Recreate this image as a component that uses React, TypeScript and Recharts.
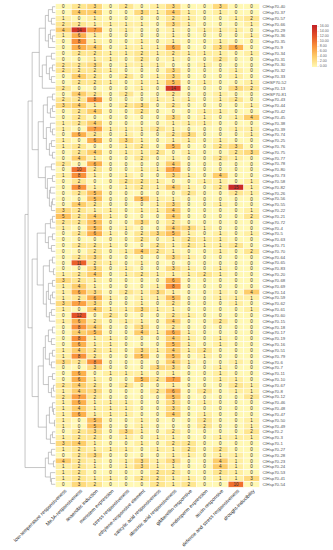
import React from 'react';
import { ScatterChart, Scatter, XAxis, YAxis } from 'recharts';

const columns = [
  'low-temperature responsiveness', 'MeJA-responsiveness', 'anaerobic induction',
  'meristem expression', 'stress responsiveness', 'ethylene-responsive element',
  'salicylic acid responsiveness', 'abscisic acid responsiveness', 'gibberellin-responsive',
  'endosperm expression', 'auxin-responsive', 'defense and stress responsiveness',
  'drought-inducibility',
];

const genes = [
  'ClHsp70-40', 'ClHsp70-37', 'ClHsp70-57', 'ClHsp70-66', 'ClHsp70-29', 'ClHsp70-36', 'ClHsp70-35',
  'ClHsp70-9', 'ClHsp70-34', 'ClHsp70-31', 'ClHsp70-30', 'ClHsp70-32', 'ClHsp70-33', 'ClHSP70-52',
  'ClHsp70-13', 'ClHSP70-81', 'ClHsp70-43', 'ClHsp70-44', 'ClHsp70-42', 'ClHsp70-45', 'ClHsp70-38',
  'ClHsp70-39', 'ClHsp70-74', 'ClHsp70-25', 'ClHsp70-76', 'ClHsp70-75', 'ClHsp70-77', 'ClHsp70-78',
  'ClHsp70-80', 'ClHsp70-73', 'ClHsp70-58', 'ClHsp70-82', 'ClHsp70-26', 'ClHsp70-56', 'ClHsp70-55',
  'ClHsp70-22', 'ClHsp70-21', 'ClHsp70-72', 'ClHsp70-4', 'ClHsp70-5', 'ClHsp70-63', 'ClHsp70-71',
  'ClHsp70-70', 'ClHsp70-64', 'ClHsp70-65', 'ClHsp70-83', 'ClHsp70-20', 'ClHsp70-68', 'ClHsp70-69',
  'ClHsp70-14', 'ClHsp70-59', 'ClHsp70-62', 'ClHsp70-61', 'ClHsp70-60', 'ClHsp70-15', 'ClHsp70-18',
  'ClHsp70-17', 'ClHsp70-19', 'ClHsp70-16', 'ClHsp70-51', 'ClHsp70-79', 'ClHsp70-6', 'ClHsp70-7',
  'ClHsp70-11', 'ClHsp70-10', 'ClHsp70-67', 'ClHsp70-8', 'ClHsp70-12', 'ClHsp70-46', 'ClHsp70-48',
  'ClHsp70-47', 'ClHsp70-50', 'ClHsp70-49', 'ClHsp70-2', 'ClHsp70-3', 'ClHsp70-1', 'ClHsp70-27',
  'ClHsp70-28', 'ClHsp70-23', 'ClHsp70-24', 'ClHsp70-53', 'ClHsp70-41', 'ClHsp70-54',
];

const counts = [
  [0, 2, 3, 0, 2, 0, 1, 3, 0, 0, 3, 0, 0],
  [0, 4, 4, 0, 0, 3, 1, 4, 1, 0, 1, 0, 0],
  [1, 0, 1, 0, 0, 0, 0, 2, 1, 0, 0, 1, 2],
  [2, 2, 1, 1, 1, 1, 0, 3, 1, 0, 0, 0, 1],
  [4, 14, 7, 0, 1, 0, 0, 1, 0, 1, 1, 1, 0],
  [1, 6, 1, 0, 0, 0, 0, 1, 0, 0, 0, 0, 1],
  [0, 8, 1, 0, 0, 1, 0, 1, 0, 0, 1, 0, 0],
  [0, 6, 4, 0, 1, 1, 1, 6, 0, 0, 3, 6, 0],
  [0, 2, 2, 1, 1, 2, 1, 2, 1, 1, 1, 0, 1],
  [0, 0, 1, 1, 0, 2, 0, 1, 0, 0, 2, 0, 0],
  [2, 2, 3, 0, 1, 1, 1, 0, 0, 1, 0, 0, 0],
  [2, 2, 2, 1, 0, 0, 0, 3, 0, 0, 0, 1, 0],
  [0, 4, 2, 0, 2, 0, 1, 3, 0, 0, 0, 1, 0],
  [0, 2, 2, 1, 0, 1, 1, 5, 0, 1, 0, 0, 1],
  [2, 0, 0, 0, 0, 1, 0, 14, 0, 0, 0, 3, 2],
  [0, 4, 2, 0, 2, 0, 0, 2, 0, 0, 1, 0, 0],
  [2, 2, 8, 0, 0, 0, 1, 1, 1, 0, 1, 2, 0],
  [3, 4, 1, 0, 2, 3, 0, 2, 0, 0, 0, 0, 1],
  [0, 2, 4, 0, 0, 2, 0, 0, 0, 1, 1, 0, 0],
  [0, 2, 0, 0, 0, 0, 0, 3, 0, 1, 0, 1, 4],
  [1, 2, 4, 0, 0, 0, 0, 1, 1, 1, 0, 0, 0],
  [1, 0, 7, 1, 1, 1, 2, 1, 0, 0, 0, 1, 1],
  [0, 6, 2, 0, 1, 0, 0, 2, 3, 0, 0, 0, 1],
  [1, 0, 6, 0, 3, 1, 0, 1, 1, 0, 1, 0, 0],
  [1, 2, 0, 0, 1, 2, 0, 5, 0, 0, 2, 3, 0],
  [0, 2, 4, 0, 1, 1, 2, 0, 1, 0, 0, 2, 3],
  [0, 4, 1, 0, 0, 2, 0, 1, 0, 0, 2, 1, 0],
  [2, 0, 6, 0, 0, 0, 0, 4, 0, 0, 0, 0, 0],
  [0, 10, 2, 0, 0, 1, 1, 7, 0, 0, 0, 0, 0],
  [1, 8, 1, 0, 1, 0, 0, 3, 1, 0, 4, 0, 0],
  [0, 2, 0, 0, 2, 2, 1, 0, 0, 1, 1, 0, 1],
  [0, 8, 1, 0, 1, 2, 1, 4, 1, 0, 2, 15, 1],
  [0, 2, 5, 0, 0, 0, 0, 0, 2, 0, 0, 2, 1],
  [0, 0, 5, 0, 0, 5, 1, 1, 0, 0, 0, 0, 0],
  [0, 4, 2, 0, 0, 0, 1, 3, 0, 0, 1, 0, 0],
  [3, 2, 1, 1, 0, 1, 1, 4, 0, 0, 0, 0, 1],
  [5, 2, 4, 1, 0, 0, 0, 4, 0, 0, 0, 0, 2],
  [2, 2, 5, 0, 0, 3, 0, 2, 0, 0, 0, 0, 0],
  [1, 0, 5, 0, 1, 0, 0, 4, 3, 1, 0, 0, 0],
  [0, 2, 6, 1, 0, 2, 3, 5, 1, 0, 1, 0, 1],
  [0, 0, 0, 0, 0, 2, 0, 1, 2, 1, 1, 0, 0],
  [0, 2, 2, 1, 0, 0, 2, 1, 2, 1, 1, 2, 0],
  [0, 0, 2, 0, 1, 4, 2, 1, 0, 0, 1, 0, 2],
  [0, 2, 3, 0, 0, 0, 0, 3, 1, 0, 0, 0, 0],
  [0, 11, 2, 1, 0, 1, 0, 0, 0, 0, 0, 0, 0],
  [0, 0, 3, 0, 1, 0, 0, 3, 1, 0, 1, 0, 0],
  [1, 2, 4, 0, 1, 2, 1, 1, 1, 2, 1, 0, 0],
  [3, 2, 1, 0, 0, 0, 0, 6, 0, 0, 0, 0, 0],
  [1, 4, 1, 0, 0, 0, 1, 8, 0, 0, 0, 0, 0],
  [1, 6, 3, 0, 2, 1, 3, 1, 0, 0, 1, 0, 4],
  [1, 2, 6, 1, 0, 1, 1, 5, 0, 0, 1, 1, 1],
  [3, 7, 3, 0, 0, 1, 0, 2, 0, 0, 0, 1, 0],
  [1, 0, 4, 1, 1, 3, 1, 1, 0, 0, 0, 0, 1],
  [0, 12, 0, 2, 0, 0, 0, 2, 1, 0, 0, 0, 0],
  [1, 6, 2, 0, 1, 1, 0, 4, 0, 0, 2, 0, 0],
  [0, 8, 4, 0, 0, 3, 0, 2, 0, 0, 0, 0, 0],
  [0, 4, 5, 0, 0, 4, 1, 6, 1, 0, 0, 0, 0],
  [0, 8, 1, 1, 0, 0, 0, 4, 1, 0, 1, 0, 0],
  [0, 6, 1, 1, 0, 0, 0, 5, 1, 0, 1, 0, 0],
  [1, 4, 2, 1, 0, 3, 1, 4, 1, 2, 0, 0, 0],
  [1, 8, 2, 0, 0, 5, 0, 5, 0, 1, 0, 0, 0],
  [3, 2, 8, 0, 0, 0, 0, 4, 1, 0, 0, 1, 0],
  [0, 0, 3, 0, 0, 0, 3, 3, 0, 0, 1, 0, 0],
  [0, 6, 0, 1, 1, 1, 0, 1, 0, 0, 1, 0, 0],
  [0, 6, 1, 0, 0, 5, 2, 7, 0, 0, 1, 1, 0],
  [2, 4, 2, 0, 2, 0, 0, 1, 0, 0, 0, 2, 1],
  [1, 4, 3, 0, 0, 0, 2, 6, 0, 2, 0, 1, 1],
  [2, 7, 2, 0, 0, 0, 0, 5, 0, 0, 0, 0, 2],
  [1, 6, 1, 1, 1, 0, 0, 3, 0, 1, 0, 0, 0],
  [1, 4, 1, 1, 1, 0, 0, 3, 0, 0, 0, 0, 0],
  [1, 6, 1, 1, 1, 0, 0, 4, 0, 1, 0, 0, 0],
  [1, 0, 5, 0, 0, 1, 0, 0, 0, 2, 0, 0, 1],
  [1, 0, 5, 0, 0, 1, 0, 0, 0, 2, 0, 0, 1],
  [0, 2, 3, 0, 3, 1, 0, 2, 0, 0, 0, 0, 2],
  [1, 2, 2, 0, 1, 0, 1, 1, 0, 0, 1, 1, 1],
  [3, 4, 1, 0, 0, 1, 0, 2, 2, 0, 0, 0, 0],
  [1, 2, 1, 1, 1, 0, 1, 1, 2, 0, 2, 0, 0],
  [0, 2, 3, 0, 0, 0, 0, 1, 1, 0, 1, 1, 0],
  [4, 2, 1, 0, 1, 3, 1, 3, 0, 0, 4, 1, 0],
  [1, 2, 1, 0, 1, 3, 1, 1, 0, 0, 4, 1, 0],
  [1, 2, 0, 0, 0, 0, 2, 2, 0, 0, 2, 1, 0],
  [1, 2, 1, 1, 0, 2, 2, 1, 1, 0, 1, 1, 3],
  [0, 3, 2, 0, 0, 0, 2, 1, 2, 0, 0, 10, 0],
];

const legendTicks = ['16.00', '14.00', '12.00', '10.00', '8.00', '6.00', '4.00', '2.00', '0.00'];

// dendrogram clusters: leaf = row index, node = [left, right, height]
const clusterA = [
  [[[0, 1, 3], [2, 3, 4], 7], [[4, [5, 6, 3], 5], 7, 7], 10],
  [[[8, 9, 4], [[10, 11, 3], [12, 13, 4], 6], 9], 14, 13],
  16,
];
const clusterB = [
  [[[15, 16, 3], [[17, 18, 3], 19, 5], 8], [[20, [21, 22, 3], 5], [[23, 24, 4], [25, 26, 3], 6], 9], 12],
  [[27, 28, 4], [[29, 30, 3], [[31, 32, 5], [[33, 34, 3], 35, 4], 6], 8], 10],
  17,
];
const clusterC = [
  [[[36, 37, 3], 38, 5], [[39, 40, 3], [41, 42, 4], 7], 10],
  [[[43, 44, 3], [45, 46, 2], 6], [[[47, 48, 3], [[49, 50, 3], 51, 5], 7], [[52, 53, 4], 54, 6], 9], 12],
  18,
];
const clusterD = [
  [[[[55, 56, 3], [57, 58, 4], 7], [[59, 60, 3], [61, 62, 4], 6], 10], [[63, 64, 3], [[65, 66, 2], 67, 4], 7], 12],
  [[[68, [69, 70, 2], 3], [71, 72, 1], 6], [[73, 74, 3], 75, 5], 9],
  17,
];
const clusterE = [[[76, 77, 4], [78, 79, 2], 7], [80, [81, 82, 4], 5], 10];
const tree: any = [[[clusterA, clusterB, 23], [clusterC, clusterD, 23], 27], clusterE, 30];

const colorStops: [number, number[]][] = [
  [0, [255, 248, 180]], [2, [254, 230, 144]], [4, [253, 205, 106]], [6, [252, 176, 76]],
  [8, [249, 145, 58]], [10, [240, 112, 45]], [12, [227, 80, 40]], [14, [212, 52, 37]], [16, [194, 32, 38]],
];

function colorFor(v: number) {
  for (let i = 0; i < colorStops.length - 1; i++) {
    const [a, ca] = colorStops[i];
    const [b, cb] = colorStops[i + 1];
    if (v <= b) {
      const t = (v - a) / (b - a);
      const c = ca.map((x, k) => Math.round(x + (cb[k] - x) * t));
      return `rgb(${c[0]},${c[1]},${c[2]})`;
    }
  }
  const c = colorStops[colorStops.length - 1][1];
  return `rgb(${c[0]},${c[1]},${c[2]})`;
}

const cells = counts.flatMap((row, r) => row.map((v, c) => ({ c, r, v })));

// layout
const W = 333;
const H = 550;
const PLOT_L = 55.5;
const PLOT_R = 259.5;
const PLOT_T = 3.8;
const PLOT_B = 487.2;
const cellW = (PLOT_R - PLOT_L) / columns.length;
const cellH = (PLOT_B - PLOT_T) / genes.length;

// build dendrogram polylines
const links: { x: number; y: number }[][] = [];
function walk(node: any): { y: number; h: number } {
  if (typeof node === 'number') return { y: node, h: 0 };
  const a = walk(node[0]);
  const b = walk(node[1]);
  const h = node[2];
  links.push([
    { x: a.h, y: a.y },
    { x: h, y: a.y },
    { x: h, y: b.y },
    { x: b.h, y: b.y },
  ]);
  return { y: (a.y + b.y) / 2, h };
}
walk(tree);

const CellShape = (props: any) => {
  const { cx, cy, payload } = props;
  if (cx == null || cy == null) return <g />;
  return (
    <g>
      <rect x={cx - cellW / 2} y={cy - cellH / 2} width={cellW} height={cellH}
        fill={colorFor(payload.v)} stroke="#ffffff" strokeWidth={0.5} />
      <text x={cx} y={cy + 1.6} textAnchor="middle" fontSize={4.6} fill="#333"
        fontFamily="Liberation Sans, Arial, sans-serif">{payload.v}</text>
    </g>
  );
};

const ColTick = (props: any) => {
  const { x, y, payload } = props;
  const tx = x + 3.5;
  const ty = y + 4;
  return (
    <text x={tx} y={ty} transform={`rotate(-45, ${tx}, ${ty})`} textAnchor="end" fontSize={5}
      fill="#222" fontFamily="Liberation Sans, Arial, sans-serif">
      {columns[payload.value]}
    </text>
  );
};

const colIdx = columns.map((_, i) => i);
const rowIdx = genes.map((_, i) => i);

export default function App() {
  return (
    <div style={{ position: 'absolute', left: 0, top: 0, width: W, height: H, background: '#fff',
      fontFamily: 'Liberation Sans, Arial, sans-serif' }}>
      <div style={{ position: 'absolute', left: 0, top: 0 }}>
        <ScatterChart width={W} height={H}
          margin={{ top: PLOT_T, right: W - PLOT_R - 70, bottom: H - PLOT_B - 60, left: PLOT_L }}>
          <XAxis type="number" dataKey="c" domain={[-0.5, 12.5]} ticks={colIdx} interval={0}
            height={60} tick={<ColTick />} axisLine={false} tickLine={false} tickSize={0} tickMargin={0} />
          <YAxis type="number" dataKey="r" domain={[-0.5, genes.length - 0.5]} reversed orientation="right"
            width={70} ticks={rowIdx} interval={0} axisLine={false} tickLine={false} tickSize={0} tickMargin={3}
            tick={{ fontSize: 4.3, fill: '#555', fontFamily: 'Liberation Sans, Arial, sans-serif' }}
            tickFormatter={(i: number) => genes[i]} />
          <Scatter data={cells} shape={<CellShape />} isAnimationActive={false} />
        </ScatterChart>
      </div>
      <div style={{ position: 'absolute', left: 0, top: 0 }}>
        <ScatterChart width={60} height={H}
          margin={{ top: PLOT_T, right: 60 - PLOT_L, bottom: H - PLOT_B, left: 22 }}>
          <XAxis type="number" dataKey="x" domain={[0, 33]} reversed hide allowDataOverflow />
          <YAxis type="number" dataKey="y" domain={[-0.5, genes.length - 0.5]} reversed hide allowDataOverflow />
          {links.map((pts, i) => (
            <Scatter key={i} data={pts} line={{ stroke: '#a0a0a0', strokeWidth: 0.6 }} lineType="joint"
              shape={() => <g />} isAnimationActive={false} />
          ))}
        </ScatterChart>
      </div>
      <div style={{ position: 'absolute', left: 312, top: 25, width: 4.7, height: 42,
        background: 'linear-gradient(to top, rgb(255,248,180), rgb(253,205,106) 25%, rgb(249,145,58) 50%, rgb(227,80,40) 75%, rgb(194,32,38))' }} />
      {legendTicks.map((t, i) => (
        <div key={t} style={{ position: 'absolute', left: 317.5, top: 25.7 + i * 5.1 - 2.2, fontSize: 3.6,
          lineHeight: '4.4px', color: '#666', whiteSpace: 'nowrap' }}>{'- ' + t}</div>
      ))}
    </div>
  );
}
